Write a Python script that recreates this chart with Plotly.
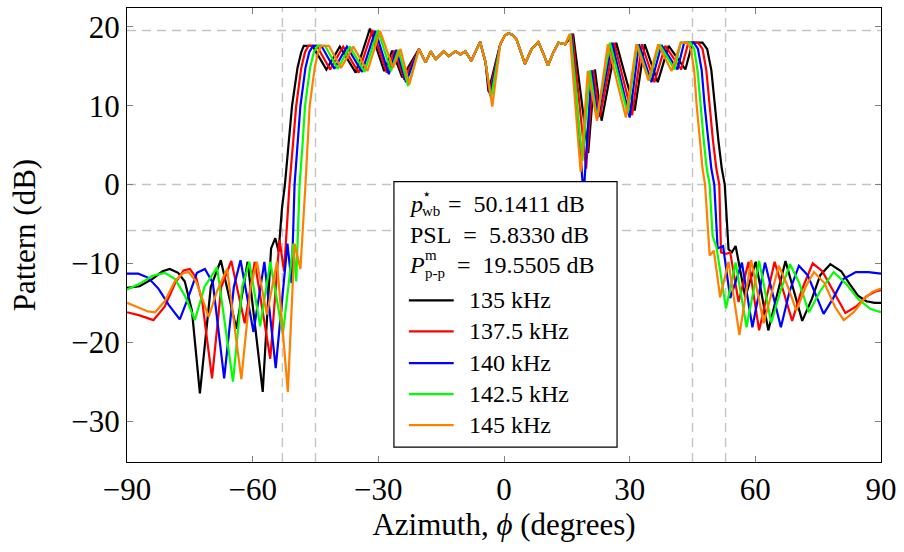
import plotly.graph_objects as go

# ---------------------------------------------------------------------------
# Beam pattern (dB) versus azimuth for five frequencies
# ---------------------------------------------------------------------------
freq_labels = ["135 kHz", "137.5 kHz", "140 kHz", "142.5 kHz", "145 kHz"]
line_colors = ["#000000", "#ff0000", "#0000ff", "#00ff00", "#ff8000"]

# Shared part of the main lobe where all frequencies coincide
center_a_phi = [-20.3, -18.7, -17.5, -16.3, -14.4, -13.2, -11.6, -10.4, -9.2, -7.8, -5.7, -4.4]
center_a_db = [17.2, 15.5, 16.9, 15.9, 16.9, 16.3, 16.9, 16.5, 16.9, 15.7, 18.1, 15.5]
center_b_phi = [-0.9, 0.2, 1.1, 2.0, 3.0, 5.0, 6.6, 8.2, 9.4, 10.5, 11.8, 13.0, 14.6]
center_b_db = [17.8, 18.9, 19.2, 19.0, 18.4, 15.3, 17.2, 18.1, 16.6, 15.1, 16.8, 18.0, 17.8]

# 135 kHz
phi_135_left = [-90, -87, -84, -81.5, -79.8, -77.8, -76.2, -74.5, -72.6, -70.0, -67.6, -63.9,
                -61.2, -57.6, -55.6, -54.6, -53.8, -53.0, -52.3, -51.5, -50.6, -49.3, -48.4,
                -47.8, -45.7, -42.4, -39.2, -35.4, -32.0, -28.6, -26.7, -24.3]
db_135_left = [-13.1, -12.9, -12.0, -11.0, -10.7, -11.2, -12.3, -16.0, -26.5, -13.0, -9.6, -18.3,
               -9.8, -26.3, -8.1, -6.8, -8.5, -3.0, 0.0, 5.0, 10.0, 14.8, 16.8,
               17.6, 17.6, 14.6, 17.5, 14.2, 19.8, 14.4, 17.0, 13.6]
phi_135_notch = [-3.7]
db_135_notch = [11.8]
phi_135_right = [16.5, 20.1, 21.7, 23.3, 26.8, 31.2, 33.6, 36.7, 39.3, 43.3, 45.0, 47.4, 48.5,
                 49.5, 50.3, 51.2, 52.0, 52.7, 53.6, 54.4, 55.3, 57.6, 60.1, 63.1, 67.2, 71.2,
                 73.5, 75.5, 77.9, 80.5, 82.5, 84.5, 86.5, 88.5, 90]
db_135_right = [19.1, 4.0, 14.6, 8.1, 18.0, 9.4, 17.8, 13.0, 17.6, 14.6, 18.0, 18.0, 17.2,
                14.5, 10.0, 5.5, 2.0, 0.0, -8.2, -8.6, -7.8, -14.3, -9.8, -18.5, -9.7, -17.3,
                -14.5, -11.5, -10.1, -11.0, -12.6, -14.1, -14.8, -15.0, -15.0]

# 137.5 kHz
phi_1375_left = [-90, -87, -83.7, -81, -78.5, -76.5, -75.0, -73.5, -72.0, -69.7, -67.5, -65.1,
                 -61.9, -59.5, -55.8, -53.6, -52.5, -51.2, -50.4, -49.6, -48.4, -47.5, -46.7,
                 -44.7, -41.5, -38.4, -34.7, -31.4, -28.0, -26.2, -23.8]
db_1375_left = [-16.2, -16.6, -17.2, -15.5, -12.5, -10.9, -10.7, -11.8, -15.0, -24.6, -13.0, -9.7,
                -17.6, -9.8, -22.1, -7.0, -11.0, 0.0, 5.0, 10.0, 14.8, 16.8, 17.6,
                17.6, 14.6, 17.5, 14.2, 19.6, 14.2, 17.0, 13.3]
phi_1375_notch = [-3.5]
db_1375_notch = [11.6]
phi_1375_right = [16.3, 19.6, 21.3, 22.9, 26.3, 30.6, 32.9, 35.9, 38.5, 42.3, 44.0, 46.3, 47.4,
                  48.3, 49.1, 49.9, 50.7, 51.4, 51.8, 53.0, 54.0, 56.0, 58.4, 60.9, 64.6, 68.8,
                  71.0, 73.7, 76.0, 78.5, 81.5, 84.0, 86.5, 88.5, 90]
db_1375_right = [19.1, 2.0, 14.5, 8.6, 18.0, 8.8, 17.8, 13.0, 17.6, 14.6, 18.0, 18.0, 17.2,
                 14.5, 10.0, 5.5, 2.0, 0.0, -8.6, -8.8, -8.6, -14.9, -9.8, -18.5, -9.8, -17.3,
                 -13.5, -10.0, -11.0, -13.5, -16.3, -15.5, -14.2, -13.6, -13.4]

# 140 kHz
phi_140_left = [-90, -87.3, -85, -82.5, -80, -77.4, -75.5, -73.3, -71.4, -69.5, -66.8, -64.5,
                -62.9, -59.8, -57.2, -54.5, -51.7, -50.7, -50.0, -49.3, -48.6, -47.4, -46.5,
                -45.6, -43.6, -40.5, -37.5, -33.9, -30.7, -27.5, -25.7, -23.4]
db_140_left = [-11.3, -11.3, -11.8, -13.2, -15.3, -17.1, -14.5, -11.2, -10.7, -12.5, -24.6, -13.0,
               -9.6, -18.7, -9.8, -23.3, -7.5, -12.5, 0.0, 5.0, 10.0, 14.8, 16.8,
               17.6, 17.6, 14.7, 17.5, 14.3, 19.5, 14.0, 17.1, 13.0]
phi_140_notch = [-3.3]
db_140_notch = [11.3]
phi_140_right = [16.1, 19.0, 20.9, 22.4, 25.8, 30.0, 32.2, 35.2, 37.6, 41.4, 43.0, 45.3, 46.3,
                 47.2, 47.9, 48.8, 49.5, 50.2, 51.0, 52.3, 54.0, 56.8, 59.3, 62.3, 66.1, 68.2,
                 70.4, 72.5, 74.5, 76.3, 78.5, 81.0, 84.0, 87.0, 90]
db_140_right = [19.1, -1.4, 14.5, 8.5, 18.0, 8.5, 17.8, 13.0, 17.7, 14.6, 18.0, 18.0, 17.2,
                14.5, 10.0, 5.5, 2.0, 0.0, -8.1, -7.8, -14.4, -9.9, -18.1, -9.9, -18.1, -13.5,
                -10.3, -11.5, -14.0, -16.4, -14.5, -12.0, -11.1, -11.1, -11.3]

# 142.5 kHz
phi_1425_left = [-90, -87, -84, -81, -78.5, -76, -73.8, -71.5, -68.5, -64.7, -62.5, -60.8,
                 -58.2, -55.8, -52.8, -50.3, -49.6, -48.8, -48.1, -47.5, -46.3, -45.4, -44.5,
                 -42.7, -39.7, -36.8, -33.3, -30.1, -27.0, -25.2, -22.9]
db_1425_left = [-13.3, -12.6, -11.6, -11.2, -12.0, -14.3, -17.2, -13.0, -10.5, -25.0, -13.0, -9.8,
                -18.0, -9.8, -19.0, -7.5, -12.3, 0.0, 5.0, 10.0, 14.8, 16.8, 17.6,
                17.6, 14.7, 17.5, 14.3, 19.6, 14.4, 17.1, 12.5]
phi_1425_notch = [-3.1]
db_1425_notch = [11.0]
phi_1425_right = [15.9, 18.7, 20.5, 22.2, 25.3, 29.5, 31.8, 34.7, 37.1, 40.7, 42.2, 44.5, 45.4,
                  46.2, 46.9, 47.7, 48.4, 49.1, 49.8, 50.7, 53.0, 55.3, 57.9, 60.9, 63.8, 66.0,
                  68.3, 70.5, 72.8, 75.5, 78.7, 81.5, 84.5, 87.5, 90]
db_1425_right = [19.1, 3.0, 14.5, 8.3, 18.0, 9.0, 17.8, 13.2, 17.8, 14.6, 18.0, 18.0, 17.2,
                 14.5, 10.0, 5.5, 2.0, 0.0, -6.5, -7.9, -15.7, -9.9, -18.1, -9.7, -17.5, -13.5,
                 -10.1, -12.5, -16.2, -13.5, -11.1, -12.5, -14.5, -15.8, -16.2]

# 145 kHz
phi_145_left = [-90, -87, -85, -83.3, -81, -78.5, -76.5, -75.3, -73.5, -72.0, -70.5, -68.5,
                -66.1, -62.7, -60.5, -59.0, -56.6, -54.2, -51.6, -50.0, -48.6, -47.4, -46.9,
                -46.4, -45.2, -44.4, -43.6, -41.8, -38.9, -36.0, -32.6, -29.6, -26.5, -24.7,
                -22.6]
db_145_left = [-15.0, -15.6, -16.1, -16.2, -14.8, -12.2, -11.2, -11.1, -12.3, -14.5, -16.8, -13.5,
               -10.7, -24.7, -13.0, -9.8, -16.5, -9.8, -26.3, -7.5, -10.7, 0.0, 5.0,
               10.0, 14.8, 16.8, 17.6, 17.6, 14.8, 17.5, 14.4, 19.5, 14.8, 17.2,
               12.7]
phi_145_notch = [-2.8]
db_145_notch = [9.9]
phi_145_right = [15.7, 18.3, 20.0, 22.2, 24.8, 29.1, 31.6, 34.5, 36.8, 40.0, 42.2, 43.8, 44.6,
                 45.4, 46.0, 46.8, 47.4, 48.0, 49.1, 50.1, 51.6, 53.6, 56.2, 59.0, 62.0, 65.6,
                 67.8, 69.8, 72.0, 74.0, 76.5, 79.0, 81.1, 83.5, 86.0, 88.0, 90]
db_145_right = [19.1, 1.6, 14.4, 8.1, 17.8, 8.5, 17.8, 13.2, 17.8, 14.4, 18.0, 18.0, 17.2,
                14.5, 10.0, 5.5, 2.0, 0.0, -9.0, -8.4, -14.3, -9.8, -19.1, -9.6, -17.6, -10.3,
                -13.0, -16.0, -13.0, -11.1, -12.5, -15.5, -17.2, -16.2, -14.5, -13.6, -13.2]

left_phi = [phi_135_left, phi_1375_left, phi_140_left, phi_1425_left, phi_145_left]
left_db = [db_135_left, db_1375_left, db_140_left, db_1425_left, db_145_left]
notch_phi = [phi_135_notch, phi_1375_notch, phi_140_notch, phi_1425_notch, phi_145_notch]
notch_db = [db_135_notch, db_1375_notch, db_140_notch, db_1425_notch, db_145_notch]
right_phi = [phi_135_right, phi_1375_right, phi_140_right, phi_1425_right, phi_145_right]
right_db = [db_135_right, db_1375_right, db_140_right, db_1425_right, db_145_right]

# Reference markers: edges of the band and the level lines
ref_angles = [-52.9, -45.0, 45.0, 52.9]
ref_levels = [19.55, 0.0, -5.833]

x_ticks = [-90, -60, -30, 0, 30, 60, 90]
y_ticks = [-30, -20, -10, 0, 10, 20]

# Figure geometry (pixels)
W, H = 904, 552
L, R, T, B = 127, 884, 7, 462
FONT = "Liberation Serif"
EN = "\u2002"


def fx(px):
    return (px - L) / (R - L)


def fy(py):
    return (B - py) / (B - T)


fig = go.Figure()

for i in range(5):
    phi = left_phi[i] + center_a_phi + notch_phi[i] + center_b_phi + right_phi[i]
    db = left_db[i] + center_a_db + notch_db[i] + center_b_db + right_db[i]
    fig.add_trace(go.Scatter(
        x=phi, y=db, mode="lines", name=freq_labels[i],
        line=dict(color=line_colors[i], width=2.2),
        showlegend=False, hoverinfo="skip",
    ))

shapes = []
grid_line = dict(color="#c4c4c4", width=1.4, dash="9px,6px")
for a in ref_angles:
    shapes.append(dict(type="line", xref="x", yref="paper", x0=a, x1=a, y0=0, y1=1,
                       line=grid_line, layer="below"))
for lv in ref_levels:
    shapes.append(dict(type="line", xref="paper", yref="y", x0=0, x1=1, y0=lv, y1=lv,
                       line=grid_line, layer="below"))

# Legend box
shapes.append(dict(type="rect", xref="paper", yref="paper",
                   x0=fx(395), x1=fx(619), y0=fy(447), y1=fy(181),
                   fillcolor="white", line=dict(color="black", width=1.2), layer="above"))

annotations = []
leg_font = dict(family=FONT, size=24, color="black")
small_font = dict(family=FONT, size=15, color="black")

header_rows = [203, 234, 265]
series_rows = [300, 331, 363, 394, 425]


def note(px, py, text, font):
    return dict(xref="paper", yref="paper", x=fx(px), y=fy(py), text=text,
                showarrow=False, xanchor="left", yanchor="middle", font=font)


# Row 1: p*_wb
annotations.append(note(408, header_rows[0], "<i>p</i>", leg_font))
annotations.append(note(421, header_rows[0] - 10, "⋆", small_font))
annotations.append(note(421, header_rows[0] + 7, "wb", small_font))
annotations.append(note(447, header_rows[0], "=" + EN + "50.1411 dB", leg_font))
# Row 2: PSL
annotations.append(note(409, header_rows[1], "PSL" + EN + "=" + EN + "5.8330 dB", leg_font))
# Row 3: P^m_p-p
annotations.append(note(408, header_rows[2], "<i>P</i>", leg_font))
annotations.append(note(424, header_rows[2] - 10, "m", small_font))
annotations.append(note(424, header_rows[2] + 8, "p-p", small_font))
annotations.append(note(456, header_rows[2], "=" + EN + "19.5505 dB", leg_font))

for i, row in enumerate(series_rows):
    shapes.append(dict(type="line", xref="paper", yref="paper",
                       x0=fx(410), x1=fx(455), y0=fy(row), y1=fy(row),
                       line=dict(color=line_colors[i], width=2.2), layer="above"))
    annotations.append(note(468, row, freq_labels[i], leg_font))

axis_common = dict(
    ticks="inside", ticklen=6, tickwidth=1, tickcolor="#808080",
    showline=True, linecolor="black", linewidth=1.2, mirror="ticks",
    showgrid=False, zeroline=False,
    tickfont=dict(family=FONT, size=31, color="black"),
)

fig.update_layout(
    width=W, height=H,
    margin=dict(l=L, r=W - R, t=T, b=H - B),
    paper_bgcolor="white", plot_bgcolor="white",
    font=dict(family=FONT, color="black"),
    xaxis=dict(range=[-90, 90], tickvals=x_ticks, ticklabelstandoff=0,
               title=dict(text="Azimuth, <i>ϕ</i> (degrees)", font=dict(size=31), standoff=7),
               **axis_common),
    yaxis=dict(range=[-35.2, 22.4], tickvals=y_ticks, ticklabelstandoff=0,
               title=dict(text="Pattern (dB)", font=dict(size=31), standoff=26),
               **axis_common),
    shapes=shapes,
    annotations=annotations,
)

fig.write_html("out.html")
